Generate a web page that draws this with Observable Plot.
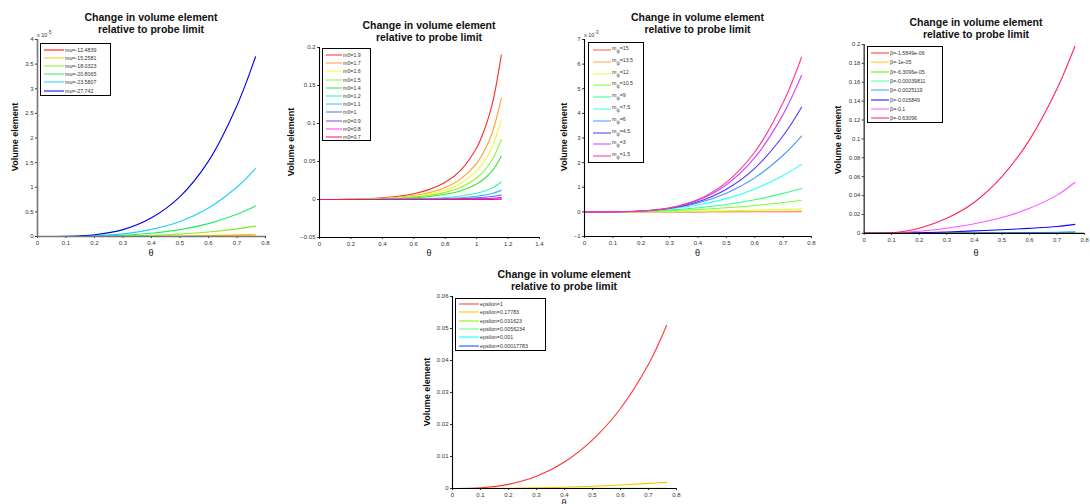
<!DOCTYPE html>
<html><head><meta charset="utf-8">
<script src="https://cdn.jsdelivr.net/npm/d3@7"></script>
<script src="https://cdn.jsdelivr.net/npm/@observablehq/plot@0.6"></script>
<style>
body{margin:0;width:1090px;height:504px;position:relative;overflow:hidden;background:#fff;font-family:"Liberation Sans",Arial,sans-serif}
.abs{position:absolute}
.title{font-weight:bold;font-size:10.5px;line-height:12px;color:#111;white-space:nowrap;transform:translateX(-50%);text-align:center}
.ylab{font-weight:bold;font-size:9px;color:#111;white-space:nowrap;transform:translate(-50%,-50%) rotate(-90deg)}
.xlab{font-size:9px;color:#111;transform:translate(-50%,-50%)}
.expo{font-size:5.5px;color:#333;white-space:nowrap}
.legend{position:absolute;border:1.3px solid #000;background:#fff;box-sizing:border-box}
.row{position:absolute;font-size:5.3px;color:#333;white-space:nowrap;line-height:6px;transform:translateY(-50%)}
.sw{position:absolute;height:0;transform:translateY(-50%)}
</style></head><body>
<script>
// ---------- Panel 1: mu ----------
const theta1 = [0, 0.1, 0.2, 0.3, 0.4, 0.5, 0.6, 0.7, 0.765];
const muLabels = ["mu=-12.4839","mu=-15.2581","mu=-18.0323","mu=-20.8065","mu=-23.5807","mu=-27.742"];
const muColors = ["#ff0000","#ffc400","#88ee22","#22ee66","#22ccff","#0000ee"];
const muValues = [ // in units of 1e-5
  [0, 0, 0.0001, 0.0003, 0.0007, 0.0014, 0.0026, 0.0044, 0.006],
  [0, 0.0001, 0.0007, 0.0022, 0.0053, 0.0106, 0.0194, 0.033, 0.045],
  [0, 0.0005, 0.003, 0.01, 0.024, 0.049, 0.09, 0.154, 0.21],
  [0, 0.001, 0.007, 0.026, 0.067, 0.14, 0.262, 0.452, 0.62],
  [0, 0.0015, 0.013, 0.053, 0.144, 0.306, 0.578, 1.005, 1.38],
  [0, 0.004, 0.035, 0.14, 0.38, 0.81, 1.53, 2.66, 3.65]
];
const xTicks1 = [0, 0.1, 0.2, 0.3, 0.4, 0.5, 0.6, 0.7, 0.8];
const yTicks1 = [0, 0.5, 1, 1.5, 2, 2.5, 3, 3.5, 4];

// ---------- Panel 2: m0 ----------
const theta2 = [0, 0.2, 0.4, 0.6, 0.7, 0.8, 0.9, 1.0, 1.05, 1.1, 1.157];
const m0Labels = ["m0=1.9","m0=1.7","m0=1.6","m0=1.5","m0=1.4","m0=1.2","m0=1.1","m0=1","m0=0.9","m0=0.8","m0=0.7"];
const m0Colors = ["#ff2a2a","#ff9a33","#f4f533","#8cf533","#33e633","#33f5aa","#33bbff","#4d70ff","#8a3dff","#ff33ff","#ff0a78"];
const m0Values = [
  [0, 0.0003, 0.0021, 0.0076, 0.0133, 0.0226, 0.0388, 0.068, 0.092, 0.126, 0.19],
  [0, 0.0002, 0.0015, 0.0053, 0.0093, 0.0158, 0.0271, 0.0476, 0.0644, 0.0884, 0.133],
  [0, 0.0002, 0.0012, 0.0042, 0.0074, 0.0125, 0.0214, 0.0376, 0.0508, 0.0698, 0.105],
  [0, 0.0001, 0.0009, 0.0032, 0.0055, 0.0094, 0.0161, 0.0283, 0.0382, 0.0525, 0.079],
  [0, 0.0001, 0.0006, 0.0023, 0.004, 0.0068, 0.0116, 0.0204, 0.0276, 0.0379, 0.057],
  [0, 0, 0.0003, 0.0009, 0.0016, 0.0027, 0.0047, 0.0082, 0.0111, 0.0153, 0.023],
  [0, 0, 0.0001, 0.0005, 0.0008, 0.0014, 0.0024, 0.0043, 0.0058, 0.008, 0.012],
  [0, 0, 0.0001, 0.0002, 0.0004, 0.0007, 0.0012, 0.0021, 0.0029, 0.004, 0.006],
  [0, 0, 0, 0.0001, 0.0002, 0.0003, 0.0005, 0.0009, 0.0012, 0.0017, 0.0025],
  [0, 0, 0, 0, 0.0001, 0.0001, 0.0002, 0.0004, 0.0005, 0.0007, 0.001],
  [0, 0, 0, 0, 0, 0, 0.0001, 0.0001, 0.0001, 0.0002, 0.0003]
];
const xTicks2 = [0, 0.2, 0.4, 0.6, 0.8, 1, 1.2, 1.4];
const yTicks2 = [-0.05, 0, 0.05, 0.1, 0.15, 0.2];

// ---------- Panel 3: m_psi ----------
const theta3 = [0, 0.1, 0.2, 0.3, 0.4, 0.5, 0.6, 0.7, 0.765];
const mpsiLabels = ["15","13.5","12","10.5","9","7.5","6","4.5","3","1.5"];
const mpsiColors = ["#ff5555","#ffaa44","#ddff44","#77ff33","#33ff88","#33ffff","#4499ff","#5533ff","#cc44ff","#ff3399"];
const mpsiValues = [ // in units of 1e-3
  [0, 0.0001, 0.0004, 0.001, 0.0019, 0.0031, 0.0047, 0.0066, 0.008],
  [0, 0.0004, 0.0016, 0.0038, 0.0072, 0.0118, 0.0176, 0.0247, 0.03],
  [0, 0.0014, 0.0063, 0.0153, 0.0288, 0.047, 0.07, 0.099, 0.12],
  [0, 0.0036, 0.019, 0.05, 0.099, 0.17, 0.262, 0.38, 0.47],
  [0, 0.004, 0.025, 0.076, 0.165, 0.3, 0.49, 0.75, 0.95],
  [0, 0.0043, 0.034, 0.116, 0.276, 0.539, 0.93, 1.48, 1.93],
  [0, 0.0037, 0.037, 0.14, 0.36, 0.76, 1.38, 2.3, 3.08],
  [0, 0.003, 0.034, 0.146, 0.41, 0.92, 1.77, 3.09, 4.25],
  [0, 0.002, 0.034, 0.158, 0.47, 1.1, 2.2, 3.96, 5.55],
  [0, 0.002, 0.033, 0.163, 0.5, 1.2, 2.43, 4.44, 6.28]
];
const xTicks3 = [0, 0.1, 0.2, 0.3, 0.4, 0.5, 0.6, 0.7, 0.8];
const yTicks3 = [-1, 0, 1, 2, 3, 4, 5, 6, 7];

// ---------- Panel 4: beta ----------
const theta4 = [0, 0.1, 0.2, 0.3, 0.4, 0.5, 0.6, 0.7, 0.765];
const betaLabels = ["β=-1.5849e-06","β=-1e-05","β=-6.3096e-05","β=-0.00039811","β=-0.0025119","β=-0.015849","β=-0.1","β=-0.63096"];
const betaColors = ["#ff3333","#ffcc00","#66ee00","#44ffaa","#22aaff","#2200ff","#ff55ff","#ff2255"];
const betaValues = [
  [0, 0, 0, 0, 0, 0, 0, 0, 0],
  [0, 0, 0, 0, 0, 0, 0, 0, 0.00001],
  [0, 0, 0, 0, 0.00001, 0.00002, 0.00003, 0.00004, 0.00005],
  [0, 0, 0.00001, 0.00004, 0.00008, 0.00013, 0.00019, 0.00025, 0.0003],
  [0, 0.00002, 0.0001, 0.0002, 0.0004, 0.0006, 0.0009, 0.0012, 0.0016],
  [0, 0.0002, 0.0007, 0.0015, 0.0026, 0.0038, 0.0053, 0.0072, 0.0095],
  [0, 0.0004, 0.0022, 0.0055, 0.0102, 0.0168, 0.0265, 0.0405, 0.054],
  [0, 0.0007, 0.0055, 0.016, 0.033, 0.06, 0.099, 0.153, 0.198]
];
const xTicks4 = [0, 0.1, 0.2, 0.3, 0.4, 0.5, 0.6, 0.7, 0.8];
const yTicks4 = [0, 0.02, 0.04, 0.06, 0.08, 0.1, 0.12, 0.14, 0.16, 0.18, 0.2];

// ---------- Panel 5: epsilon ----------
const theta5 = [0, 0.1, 0.2, 0.3, 0.4, 0.5, 0.6, 0.7, 0.765];
const epsLabels = ["epsilon=1","epsilon=0.17783","epsilon=0.031623","epsilon=0.0056234","epsilon=0.001","epsilon=0.00017783"];
const epsColors = ["#ff3333","#ffbb00","#88ee00","#55ff88","#00ffff","#0044ff"];
const epsValues = [
  [0, 0.0002, 0.0013, 0.0038, 0.0083, 0.0152, 0.025, 0.0388, 0.051],
  [0, 0.00002, 0.0001, 0.0002, 0.0004, 0.0007, 0.0011, 0.0016, 0.0019],
  [0, 0, 0, 0.00001, 0.00002, 0.00003, 0.00004, 0.00006, 0.00007],
  [0, 0, 0, 0, 0, 0, 0.00001, 0.00001, 0.00001],
  [0, 0, 0, 0, 0, 0, 0, 0, 0],
  [0, 0, 0, 0, 0, 0, 0, 0, 0]
];
const xTicks5 = [0, 0.1, 0.2, 0.3, 0.4, 0.5, 0.6, 0.7, 0.8];
const yTicks5 = [0, 0.01, 0.02, 0.03, 0.04, 0.05, 0.06];

const titleLines = ["Change in volume element", "relative to probe limit"];

function el(tag, cls, style, html) {
  const e = document.createElement(tag);
  if (cls) e.className = cls;
  Object.assign(e.style, style || {});
  if (html != null) e.innerHTML = html;
  document.body.appendChild(e);
  return e;
}

function panel(cfg) {
  const mL = 22, mR = 6, mT = 4, mB = 14;
  const pw = cfg.x1 - cfg.x0, ph = cfg.yb - cfg.yt;
  const marks = [];
  cfg.values.forEach((vals, i) => {
    const rows = cfg.theta.map((t, j) => ({t, v: vals[j]}));
    marks.push(Plot.line(rows, {x: "t", y: "v", stroke: cfg.colors[i], strokeWidth: 1.1, curve: "catmull-rom"}));
  });
  marks.push(Plot.ruleX([cfg.xd[0]], {stroke: cfg.axisColor || "#000", strokeWidth: cfg.axisWidth || 1.1}));
  marks.push(Plot.ruleY([cfg.yd[0]], {stroke: cfg.axisColor || "#000", strokeWidth: cfg.axisWidth || 1.1}));
  const fmt = d => String(d).replace("-", "\u2212");
  const svg = Plot.plot({
    width: pw + mL + mR, height: ph + mT + mB,
    marginLeft: mL, marginRight: mR, marginTop: mT, marginBottom: mB,
    x: {domain: cfg.xd, ticks: cfg.xt, tickFormat: fmt, label: null, tickSize: 2, tickPadding: 2},
    y: {domain: cfg.yd, ticks: cfg.yt2, tickFormat: fmt, label: null, tickSize: 2, tickPadding: 2},
    style: {fontSize: "6px", fontFamily: "'Liberation Sans', Arial, sans-serif", color: "#333", background: "transparent", overflow: "visible"},
    marks
  });
  const wrap = el("div", "abs", {left: (cfg.x0 - mL) + "px", top: (cfg.yt - mT) + "px"});
  wrap.appendChild(svg);
  el("div", "abs title", {left: ((cfg.x0 + cfg.x1) / 2) + "px", top: cfg.titleTop + "px"}, titleLines.join("<br>"));
  el("div", "abs ylab", {left: cfg.ylabX + "px", top: cfg.ylabY + "px"}, "Volume element");
  el("div", "abs xlab", {left: ((cfg.x0 + cfg.x1) / 2) + "px", top: cfg.xlabY + "px"}, "θ");
  if (cfg.expo) el("div", "abs expo", {left: cfg.x0 + "px", top: (cfg.yt - 9) + "px"}, cfg.expo);
  const L = cfg.legend;
  const box = el("div", "legend", {left: L.x0 + "px", top: L.y0 + "px", width: (L.x1 - L.x0) + "px", height: (L.y1 - L.y0) + "px"});
  cfg.labels.forEach((lab, i) => {
    const cy = L.r0 - L.y0 + i * L.dy;
    const s = document.createElement("div");
    s.className = "sw";
    Object.assign(s.style, {left: (L.s0 - L.x0) + "px", width: (L.s1 - L.s0) + "px", top: cy + "px", borderTop: "1.2px solid " + cfg.colors[i]});
    box.appendChild(s);
    const t = document.createElement("div");
    t.className = "row";
    Object.assign(t.style, {left: (L.s1 - L.x0 + 1) + "px", top: cy + "px"});
    t.innerHTML = lab;
    box.appendChild(t);
  });
}

panel({theta: theta1, values: muValues, colors: muColors, labels: muLabels,
  x0: 37, x1: 265, yt: 39, yb: 236, xd: [0, 0.8], yd: [0, 4], xt: xTicks1, yt2: yTicks1,
  axisColor: "#777", axisWidth: 1.6,
  titleTop: 10.5, ylabX: 15, ylabY: 137, xlabY: 253, expo: "x 10<sup style='font-size:4.5px'>-5</sup>",
  legend: {x0: 40, x1: 111, y0: 43, y1: 96, r0: 48.5, dy: 8.2, s0: 43, s1: 63}});

panel({theta: theta2, values: m0Values, colors: m0Colors, labels: m0Labels,
  x0: 319, x1: 539, yt: 47, yb: 237, xd: [0, 1.4], yd: [-0.05, 0.2], xt: xTicks2, yt2: yTicks2,
  titleTop: 18.5, ylabX: 291, ylabY: 142, xlabY: 253,
  legend: {x0: 322, x1: 371, y0: 48, y1: 141, r0: 54, dy: 8.2, s0: 325, s1: 341}});

panel({theta: theta3, values: mpsiValues, colors: mpsiColors,
  labels: mpsiLabels.map(v => "m<sub style='font-size:4.5px'>ψ</sub>=" + v),
  x0: 584, x1: 811, yt: 39, yb: 236, xd: [0, 0.8], yd: [-1, 7], xt: xTicks3, yt2: yTicks3,
  titleTop: 10.5, ylabX: 564, ylabY: 137, xlabY: 253, expo: "x 10<sup style='font-size:4.5px'>-3</sup>",
  legend: {x0: 588, x1: 644, y0: 42, y1: 163, r0: 49, dy: 11.8, s0: 592, s1: 610}});

panel({theta: theta4, values: betaValues, colors: betaColors, labels: betaLabels,
  x0: 864, x1: 1088, yt: 44, yb: 236, xd: [0, 0.8], yd: [0, 0.2], xt: xTicks4, yt2: yTicks4,
  titleTop: 15.5, ylabX: 838, ylabY: 140, xlabY: 253,
  legend: {x0: 867, x1: 943, y0: 46, y1: 123, r0: 52, dy: 9.3, s0: 870, s1: 888}});

panel({theta: theta5, values: epsValues, colors: epsColors, labels: epsLabels,
  x0: 452, x1: 676, yt: 296, yb: 488, xd: [0, 0.8], yd: [0, 0.06], xt: xTicks5, yt2: yTicks5,
  titleTop: 267.5, ylabX: 427, ylabY: 392, xlabY: 503,
  legend: {x0: 455, x1: 546, y0: 298, y1: 351, r0: 303, dy: 8.3, s0: 458, s1: 478}});
</script>
</body></html>
